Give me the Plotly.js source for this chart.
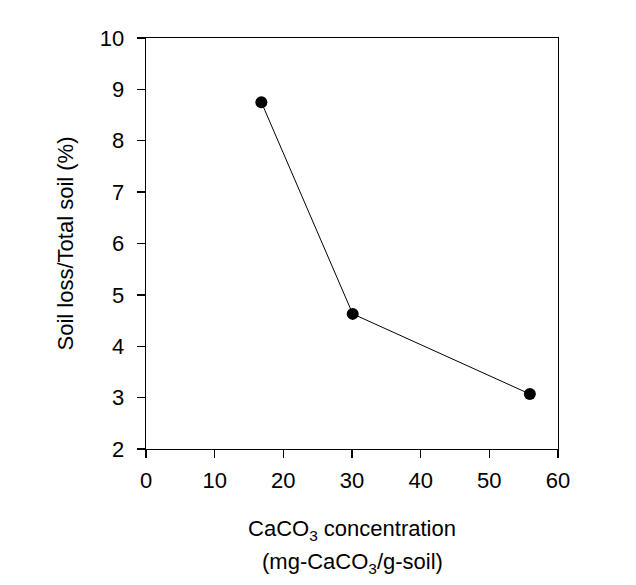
<!DOCTYPE html>
<html>
<head>
<meta charset="utf-8">
<script src="https://cdn.plot.ly/plotly-3.0.1.min.js"></script>
<style>html,body{margin:0;padding:0;background:#fff;}</style>
</head>
<body>
<div id="chart" style="width:636px;height:585px;"></div>
<script>
const caco3 = [16.8, 30.1, 55.9];
const soilLossPct = [8.75, 4.63, 3.07];
const xTicks = [0, 10, 20, 30, 40, 50, 60];
const yTicks = [2, 3, 4, 5, 6, 7, 8, 9, 10];
const xTitleLine1 = 'CaCO<sub>3</sub> concentration';
const xTitleLine2 = '(mg-CaCO<sub>3</sub>/g-soil)';
const yTitle = 'Soil loss/Total soil (%)';

const font = 'Liberation Sans, Arial, sans-serif';

Plotly.newPlot('chart', [{
  x: caco3,
  y: soilLossPct,
  type: 'scatter',
  mode: 'lines+markers',
  line: {color: '#000', width: 1},
  marker: {color: '#000', size: 12},
  showlegend: false
}], {
  width: 636, height: 585,
  margin: {l: 146, r: 78, t: 38, b: 136},
  paper_bgcolor: '#fff', plot_bgcolor: '#fff',
  font: {family: font, color: '#000', size: 22},
  xaxis: {
    range: [0, 60], tickvals: xTicks, ticktext: xTicks.map(String),
    ticks: 'outside', ticklen: 8, tickwidth: 1.3, tickcolor: '#000',
    showline: true, linecolor: '#000', linewidth: 1.3, mirror: true,
    showgrid: false, zeroline: false,
    tickfont: {size: 22}, ticklabelstandoff: 3,
    title: {text: xTitleLine1, font: {size: 22}, standoff: 29}
  },
  yaxis: {
    range: [2, 10], tickvals: yTicks, ticktext: yTicks.map(String),
    ticks: 'outside', ticklen: 8, tickwidth: 1.3, tickcolor: '#000',
    showline: true, linecolor: '#000', linewidth: 1.3, mirror: true,
    showgrid: false, zeroline: false,
    tickfont: {size: 22}, ticklabelstandoff: 8,
    title: {text: yTitle, font: {size: 22}, standoff: 20}
  },
  annotations: [{
    text: xTitleLine2, xref: 'paper', yref: 'paper', x: 0.5, y: 0,
    xanchor: 'center', yanchor: 'middle', yshift: -114, showarrow: false,
    font: {size: 22, family: font, color: '#000'}
  }]
}, {displayModeBar: false, staticPlot: true});
</script>
</body>
</html>
